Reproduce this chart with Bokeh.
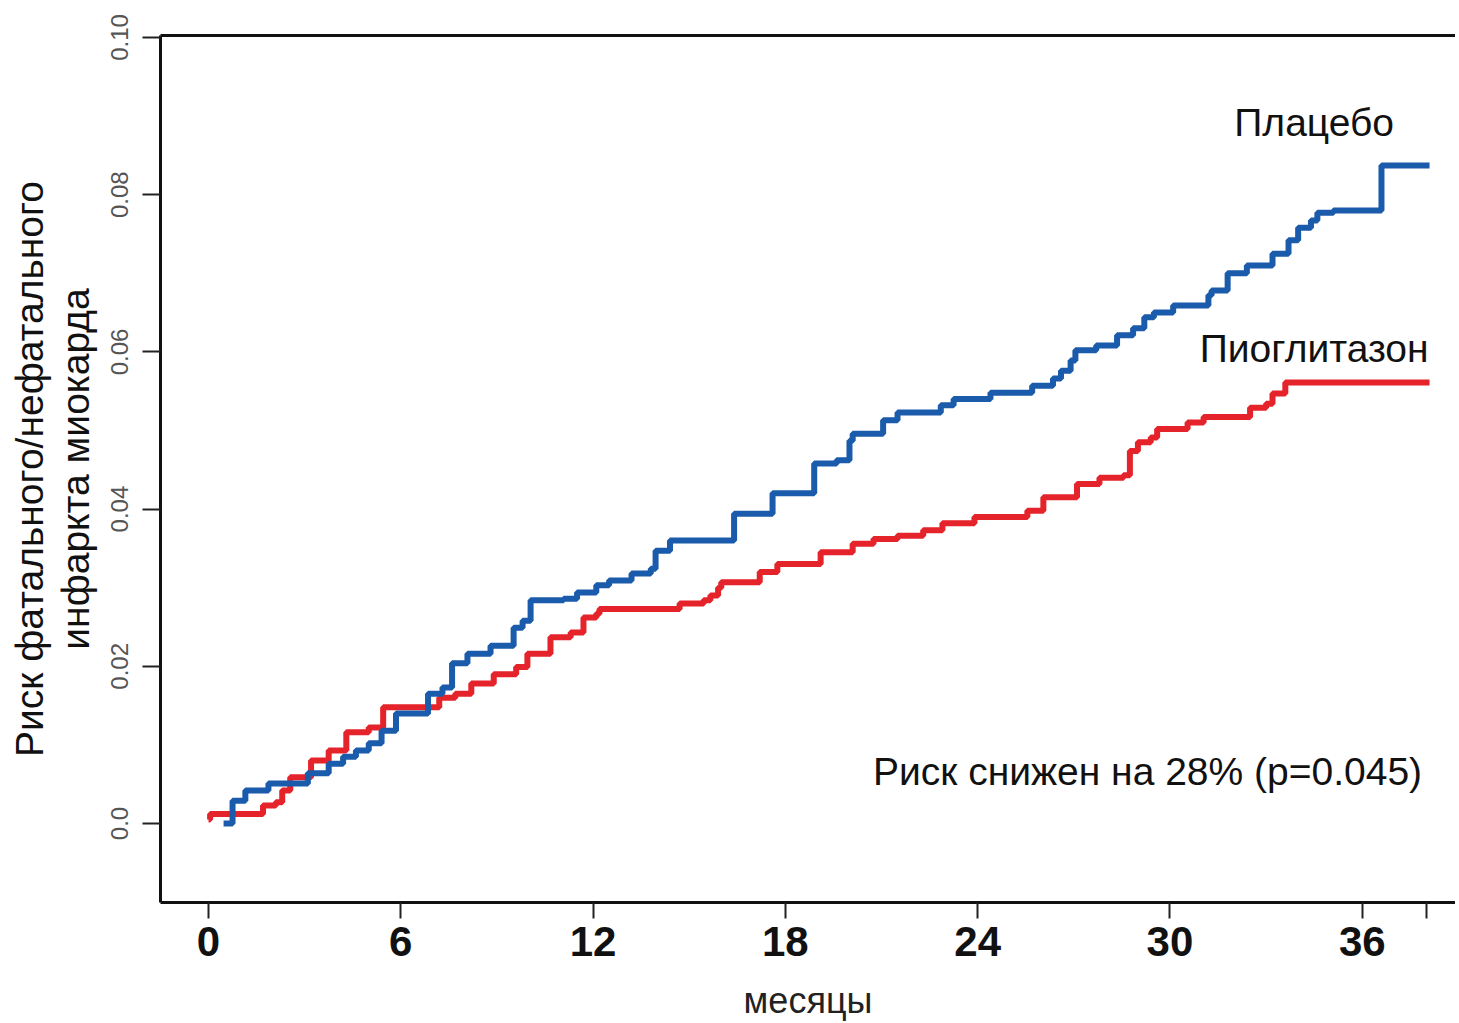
from bokeh.plotting import figure
from bokeh.models import Range1d, FixedTicker, LinearAxis, Label
from bokeh.embed import file_html
from bokeh.resources import INLINE

# --- data ---
placebo_t = [0.47, 0.75, 1.15, 1.87, 3.1, 3.75, 4.2, 4.6, 5.0, 5.4, 5.85, 6.85, 7.3, 7.6,
             8.08, 8.8, 9.52, 9.8, 10.05, 11.08, 11.5, 12.1, 12.5, 13.2, 13.8, 13.95, 14.4,
             16.4, 17.6, 18.9, 19.6, 20.0, 20.1, 21.05, 21.5, 22.85, 23.25, 24.4, 25.7,
             26.35, 26.6, 26.9, 27.05, 27.7, 28.35, 28.85, 29.2, 29.5, 30.1, 31.2, 31.3,
             31.8, 32.4, 33.2, 33.7, 34.0, 34.4, 34.6, 35.1, 36.6, 38.1]
placebo_v = [0.0, 0.0029, 0.0042, 0.0051, 0.0064, 0.0076, 0.0085, 0.0093, 0.0102, 0.0118,
             0.0140, 0.0165, 0.0173, 0.0204, 0.0216, 0.0226, 0.0249, 0.0258, 0.0284, 0.0286,
             0.0294, 0.0303, 0.0309, 0.0318, 0.0324, 0.0347, 0.0360, 0.0394, 0.0420, 0.0458,
             0.0462, 0.0487, 0.0496, 0.0513, 0.0523, 0.0532, 0.0540, 0.0548, 0.0557, 0.0566,
             0.0576, 0.0589, 0.0602, 0.0608, 0.0621, 0.0630, 0.0644, 0.0650, 0.0659, 0.0672,
             0.0678, 0.0700, 0.0710, 0.0725, 0.0742, 0.0758, 0.0767, 0.0777, 0.0780, 0.0837,
             0.0837]

pio_t = [0.0, 0.05, 1.7, 2.1, 2.3, 2.55, 3.2, 3.75, 4.3, 5.0, 5.45, 7.2, 7.7, 8.2, 8.9,
         9.6, 9.95, 10.67, 11.3, 11.7, 12.1, 12.2, 14.7, 15.45, 15.66, 15.9, 16.0, 17.2,
         17.75, 19.1, 20.1, 20.75, 21.5, 22.3, 22.9, 23.9, 25.55, 26.05, 27.1, 27.8, 28.55,
         28.75, 29.0, 29.4, 29.6, 30.55, 31.05, 32.5, 33.0, 33.2, 33.6, 38.1]
pio_v = [0.0005, 0.0012, 0.0023, 0.0027, 0.0042, 0.0059, 0.0080, 0.0093, 0.0116, 0.0122,
         0.0148, 0.0160, 0.0165, 0.0178, 0.0190, 0.0199, 0.0216, 0.0237, 0.0243, 0.0262,
         0.0267, 0.0273, 0.0280, 0.0284, 0.0290, 0.0300, 0.0307, 0.0320, 0.0330, 0.0345,
         0.0356, 0.0362, 0.0366, 0.0373, 0.0382, 0.0390, 0.0398, 0.0415, 0.0432, 0.0440,
         0.0443, 0.0474, 0.0485, 0.0491, 0.0502, 0.0510, 0.0517, 0.0529, 0.0534, 0.0547,
         0.0561, 0.0561]

x_ticks = [0, 6, 12, 18, 24, 30, 36, 38]
x_tick_labels = {0: "0", 6: "6", 12: "12", 18: "18", 24: "24", 30: "30", 36: "36", 38: ""}
y_ticks = [0.0, 0.02, 0.04, 0.06, 0.08, 0.10]
y_tick_labels = {0.0: "0.0", 0.02: "0.02", 0.04: "0.04", 0.06: "0.06", 0.08: "0.08", 0.10: "0.10"}
y_title_lines = ["Риск фатального/нефатального", "инфаркта миокарда"]
x_title = "месяцы"

FONT = "Liberation Sans"

p = figure(width=1455, height=1023, output_backend="svg", toolbar_location=None,
           x_range=Range1d(-1.498, 38.91), y_range=Range1d(-0.01005, 0.10025),
           min_border_left=160, min_border_right=0, min_border_top=35, min_border_bottom=121)
p.outline_line_color = None
p.grid.visible = False
p.background_fill_color = "white"
p.border_fill_color = "white"

# x axis
xa = p.xaxis[0]
xa.ticker = FixedTicker(ticks=x_ticks)
xa.major_label_overrides = x_tick_labels
xa.minor_tick_line_color = None
xa.major_tick_in = 0
xa.major_tick_out = 16
xa.major_tick_line_width = 2
xa.major_tick_line_color = "#222222"
xa.axis_line_width = 3
xa.axis_line_color = "#111111"
xa.major_label_text_font = FONT
xa.major_label_text_font_style = "bold"
xa.major_label_text_font_size = "42px"
xa.major_label_text_color = "#111111"
xa.major_label_standoff = 8
xa.axis_label = x_title
xa.axis_label_text_font = FONT
xa.axis_label_text_font_style = "normal"
xa.axis_label_text_font_size = "36px"
xa.axis_label_text_color = "#222222"
xa.axis_label_standoff = 21

# y axis (ticks + second title line)
ya = p.yaxis[0]
ya.ticker = FixedTicker(ticks=y_ticks)
ya.major_label_overrides = y_tick_labels
ya.minor_tick_line_color = None
ya.major_tick_in = 0
ya.major_tick_out = 18
ya.major_tick_line_width = 2
ya.major_tick_line_color = "#222222"
ya.axis_line_width = 3
ya.axis_line_color = "#111111"
ya.major_label_orientation = "vertical"
ya.major_label_text_font = FONT
ya.major_label_text_font_size = "24px"
ya.major_label_text_color = "#555555"
ya.major_label_standoff = 14
ya.axis_label = y_title_lines[1]
ya.axis_label_text_font = FONT
ya.axis_label_text_font_style = "normal"
ya.axis_label_text_font_size = "39px"
ya.axis_label_text_color = "#111111"
ya.axis_label_standoff = 12

# outer axis carrying only the first title line
ya2 = LinearAxis(ticker=FixedTicker(ticks=[]), axis_line_color=None,
                 major_tick_line_color=None, minor_tick_line_color=None,
                 major_label_text_font_size="0px", major_label_standoff=0,
                 major_tick_out=0, major_tick_in=0,
                 axis_label=y_title_lines[0], axis_label_text_font=FONT,
                 axis_label_text_font_style="normal", axis_label_text_font_size="39px",
                 axis_label_text_color="#111111", axis_label_standoff=0)
p.add_layout(ya2, "left")

# top frame line
ta = LinearAxis(ticker=FixedTicker(ticks=[]), axis_line_width=3, axis_line_color="#111111",
                major_tick_line_color=None, minor_tick_line_color=None,
                major_label_text_font_size="0px")
p.add_layout(ta, "above")

BLUE = "#1a5bab"
RED = "#e5232b"
p.step(pio_t, pio_v, mode="after", line_color=RED, line_width=6)
p.step(placebo_t, placebo_v, mode="after", line_color=BLUE, line_width=6)

for txt, x, y in [("Плацебо", 34.5, 0.0892), ("Пиоглитазон", 34.5, 0.0604),
                  ("Риск снижен на 28% (p=0.045)", 29.3, 0.0066)]:
    p.add_layout(Label(x=x, y=y, text=txt, text_align="center", text_baseline="middle",
                       text_font=FONT, text_font_size="39px", text_color="#111111"))

open("out.html", "w").write(file_html(p, INLINE))
